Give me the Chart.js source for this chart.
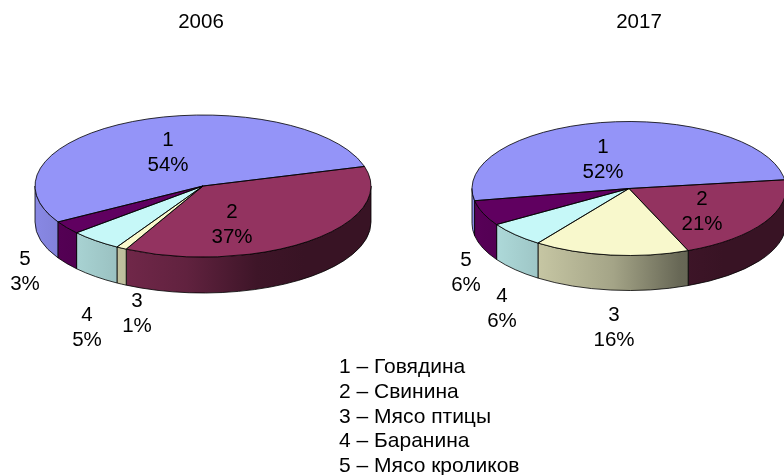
<!DOCTYPE html>
<html lang="ru">
<head>
<meta charset="utf-8">
<title>Мясо</title>
<script src="https://cdn.jsdelivr.net/npm/chart.js@4"></script>
<style>
html,body{margin:0;padding:0;background:#fff;width:784px;height:475px;overflow:hidden}
.pane{position:absolute;top:0;height:475px}
#legend{position:absolute;left:339px;top:354px;font:21px/24.8px "Liberation Sans",Arial,sans-serif;color:#000;white-space:pre}
</style>
</head>
<body>
<div class="pane" style="left:0;width:420px"><canvas id="c2006" width="420" height="475"></canvas></div>
<div class="pane" style="left:420px;width:364px"><canvas id="c2017" width="364" height="475"></canvas></div>
<div id="legend"></div>
<script>
const categories = ["Говядина", "Свинина", "Мясо птицы", "Баранина", "Мясо кроликов"];
const sliceNumbers = ["1", "2", "3", "4", "5"];
const values2006 = [54, 37, 1, 5, 3];
const values2017 = [51.5, 21.2, 16.2, 6.2, 6.2];
const sliceColors = [[148,148,248],[147,51,96],[248,248,204],[198,248,248],[96,0,96]];

const FONT = '20.5px "Liberation Sans", Arial, sans-serif';
const layouts = {
  c2006: {year:"2006", values:values2006, rotation:239.6, cx:203, cy:186, rx:168, ry:71, depth:36, wallL:35, wallR:371,
    title:[201,21], labels:[[168,146],[232,218],[137,307],[87,321],[25,265]]},
  c2017: {year:"2017", values:values2017, rotation:259.5, cx:629-420, cy:188.5, rx:157, ry:67, depth:35, wallL:472-420, wallR:786-420,
    title:[639-420,21], labels:[[603,153],[702,205],[614,321],[502,302],[466,266]].map(p=>[p[0]-420,p[1]])}
};
const LINE_STEP = 24.7;
const wallStops = [[0,.92],[.45,.66],[.66,.42],[.8,.38],[1,.38]];

function shade(rgb, f){ return `rgb(${rgb.map(v=>Math.round(v*f)).join(",")})`; }

const pie3d = {
  id:"pie3d",
  beforeDatasetsDraw(chart,args,o){
    const ctx = chart.ctx, arcs = chart.getDatasetMeta(0).data;
    const P = o.layout, TAU = Math.PI*2;
    // side wall, lower half of the ellipse only
    arcs.forEach((arc,i)=>{
      const s = arc.startAngle, e = arc.endAngle;
      [0,TAU,-TAU].forEach(shift=>{
        const a = Math.max(s, shift), b = Math.min(e, shift+Math.PI);
        if (b <= a) return;
        const g = ctx.createLinearGradient(P.wallL,0,P.wallR,0);
        const rgb = sliceColors[i];
        wallStops.forEach(st=>g.addColorStop(st[0], shade(rgb,st[1])));
        ctx.beginPath();
        ctx.ellipse(P.cx,P.cy,P.rx,P.ry,0,a,b);
        ctx.ellipse(P.cx,P.cy+P.depth,P.rx,P.ry,0,b,a,true);
        ctx.closePath();
        ctx.fillStyle = g; ctx.fill();
        ctx.strokeStyle = "#000"; ctx.lineWidth = .8; ctx.stroke();
      });
    });
    // squash the library's own arcs into the top face
    const first = arcs[0];
    ctx.save();
    ctx.translate(P.cx,P.cy);
    ctx.scale(1,P.ry/P.rx);
    ctx.translate(-first.x,-first.y);
  },
  afterDatasetsDraw(chart,args,o){
    const ctx = chart.ctx, arcs = chart.getDatasetMeta(0).data, P = o.layout;
    ctx.restore();
    arcs.forEach(arc=>{
      ctx.beginPath();
      ctx.ellipse(P.cx,P.cy,P.rx,P.ry,0,arc.startAngle,arc.endAngle);
      ctx.lineTo(P.cx,P.cy);
      ctx.closePath();
      ctx.strokeStyle = "#000"; ctx.lineWidth = .8; ctx.stroke();
    });
    ctx.fillStyle = "#000"; ctx.font = FONT; ctx.textAlign = "center"; ctx.textBaseline = "alphabetic";
    ctx.fillText(P.year, P.title[0], P.title[1]+7);
    P.values.forEach((v,i)=>{
      const [x,y] = P.labels[i];
      ctx.fillText(sliceNumbers[i], x, y);
      ctx.fillText(Math.round(v)+"%", x, y+LINE_STEP);
    });
  }
};

Object.keys(layouts).forEach(id=>{
  const L = layouts[id];
  new Chart(document.getElementById(id),{
    type:"pie",
    data:{labels:categories,datasets:[{
      data:L.values,
      backgroundColor:sliceColors.map(c=>shade(c,1)),
      borderWidth:0,
      radius:L.rx,
      clip:false
    }]},
    options:{
      responsive:false,animation:false,rotation:L.rotation,
      layout:{padding:0},
      plugins:{legend:{display:false},tooltip:{enabled:false},title:{display:false},pie3d:{layout:L}}
    },
    plugins:[pie3d]
  });
});

document.getElementById("legend").textContent =
  categories.map((c,i)=>sliceNumbers[i]+" – "+c).join("\n");
</script>
</body>
</html>
